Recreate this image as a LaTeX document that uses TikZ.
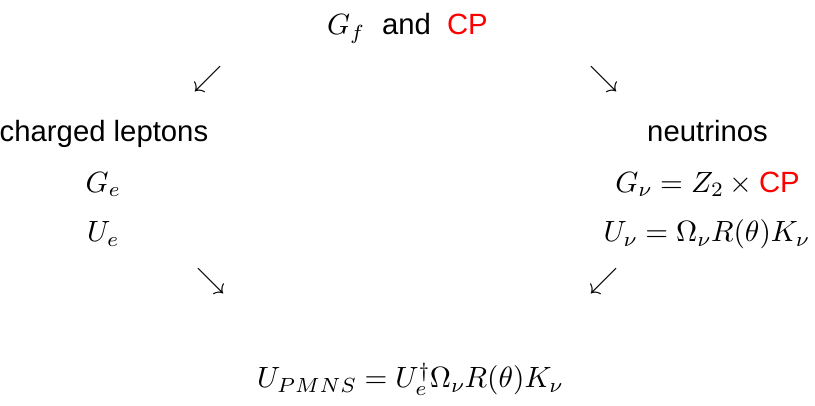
\documentclass[tikz,border=0pt]{standalone}
\usepackage{fontspec}
\setmainfont{Liberation Sans}
\usepackage{xcolor}
\DeclareFontFamily{OML}{cmm}{\skewchar\font'177}
\DeclareFontShape{OML}{cmm}{m}{it}{<-25>cmmi7 <25->cmmi10}{}
\DeclareFontFamily{OT1}{cmr}{\hyphenchar\font45}
\DeclareFontShape{OT1}{cmr}{m}{n}{<-25>cmr7 <25->cmr10}{}
\DeclareFontFamily{OMS}{cmsy}{\skewchar\font'60}
\DeclareFontShape{OMS}{cmsy}{m}{n}{<-25>cmsy7 <25->cmsy10}{}
\begin{document}
\begin{tikzpicture}[x=1pt,y=-1pt,
  lbl/.style={inner sep=0pt,outer sep=0pt,anchor=base,font=\fontsize{29.3}{35}\selectfont},
  arr/.style={inner sep=0pt,outer sep=0pt,anchor=center,font=\fontsize{29}{34}\selectfont}]
\useasboundingbox (0,0) rectangle (815,406);
% top
\node[lbl,anchor=base west] (gf) at (327,35) {$G_f$};
\node[lbl,anchor=base west] (and) at (382,35) {and};
\node[lbl,anchor=base west,text=red] (cp) at (447,35) {CP};
% arrows
\node[arr] (a1) at (207.5,79.5) {$\swarrow$};
\node[arr] (a2) at (604,79.5) {$\searrow$};
\node[arr] (a3) at (211,281.5) {$\searrow$};
\node[arr] (a4) at (603.5,281.5) {$\swarrow$};
% left
\node[lbl] (cl) at (104,142) {charged leptons};
\node[lbl] (ge) at (103,192.5) {$G_e$};
\node[lbl] (ue) at (103,242) {$U_e$};
% right
\node[lbl] (nu) at (707.5,142) {neutrinos};
\node[lbl] (gnu) at (707.5,192.5) {$G_\nu = Z_2 \times \textcolor{red}{\hbox{CP}}$};
\node[lbl] (unu) at (706.5,242) {$U_\nu = \Omega_\nu R(\theta) K_\nu$};
% bottom
\node[lbl] (pmns) at (410,388) {$U_{PMNS} = U_e^\dagger \Omega_\nu R(\theta) K_\nu$};
\end{tikzpicture}
\end{document}
